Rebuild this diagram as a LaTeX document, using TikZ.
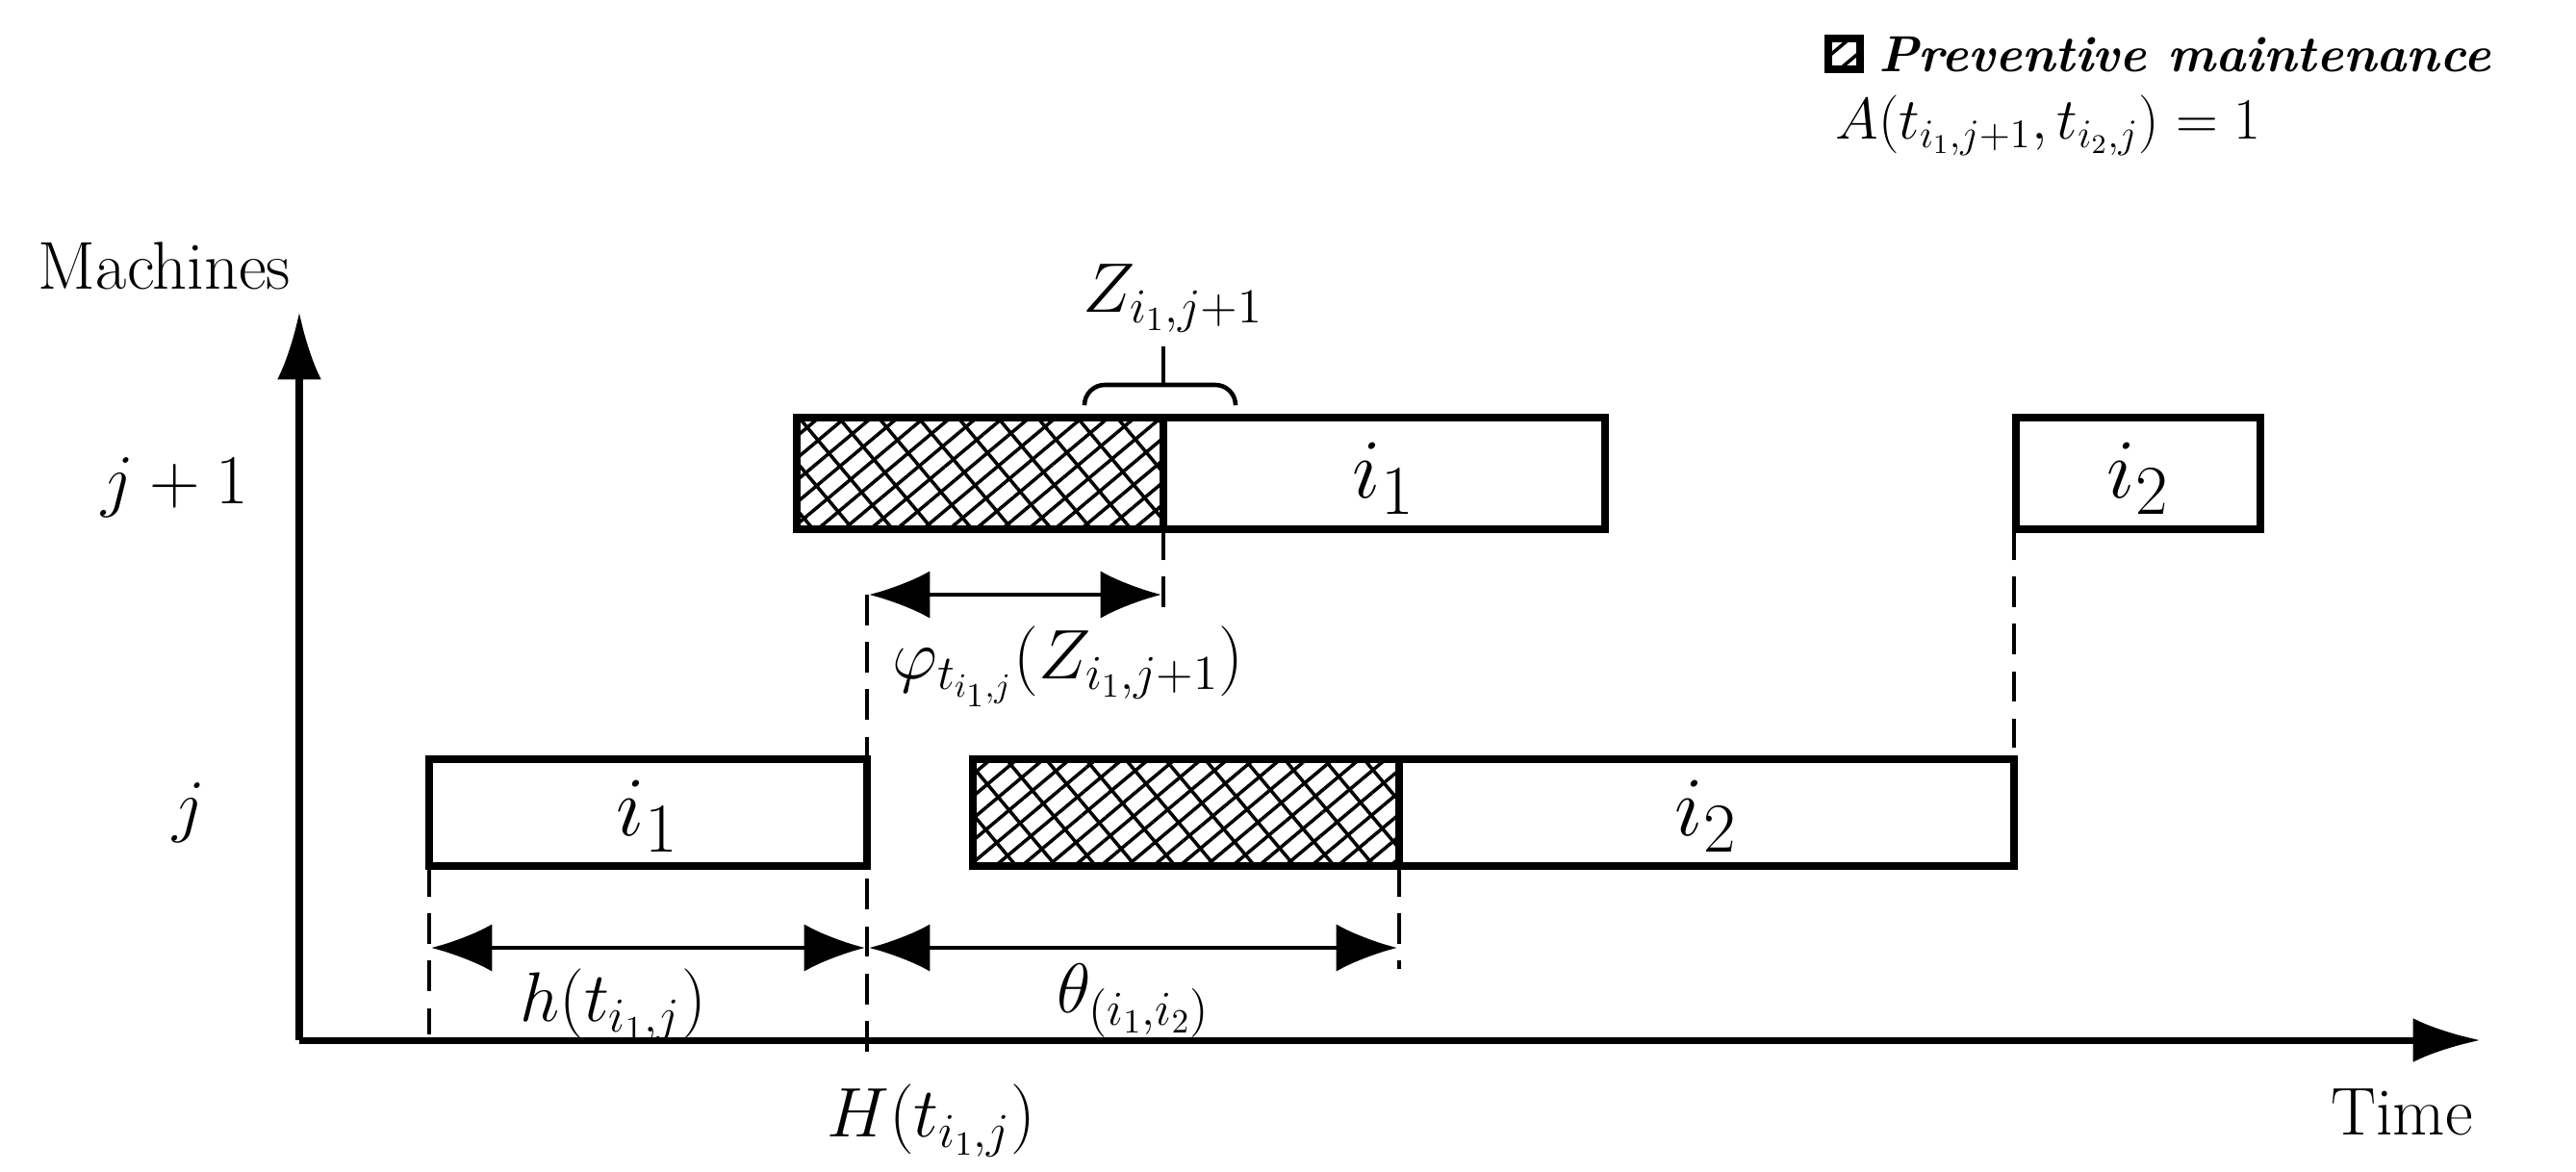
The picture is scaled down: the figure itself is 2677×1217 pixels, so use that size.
\documentclass[tikz,border=0pt]{standalone}
\usetikzlibrary{arrows.meta,patterns.meta,decorations.pathreplacing}
\begin{document}
\begin{tikzpicture}[x=0.01cm,y=-0.01cm,
  box/.style={draw,line width=2.2pt,fill=white},
  pm/.style={pattern={Lines[angle=40,distance=5pt,line width=1pt]}},
  pm2/.style={pattern={Lines[angle=-50,distance=9pt,line width=1pt]}},
  dsh/.style={dash pattern=on 9pt off 5pt,line width=1.1pt},
  dim/.style={line width=1.3pt,{Latex[length=18pt,width=14pt]}-{Latex[length=18pt,width=14pt]}},
  lab/.style={font=\fontsize{20}{24}\selectfont},
  big/.style={font=\fontsize{28}{32}\selectfont}]
\useasboundingbox (0,0) rectangle (2677,1217);
% axes
\coordinate (O) at (311,1081);
\coordinate (Ytop) at (311,324);
\coordinate (Xend) at (2578,1081);
\draw[line width=2pt,-{Latex[length=20pt,width=13pt]}] (O) -- (Ytop);
\draw[line width=2pt,-{Latex[length=20pt,width=13pt]}] (O) -- (Xend);
\node[lab] (mach) at (171,276) {Machines};
\node[lab] (time) at (2496,1156) {Time};
\node[lab] (rj1) at (182,507) {$j+1$};
\node[lab] (rj) at (196,845) {$j$};
% row j+1
\path[pm] (828,434) rectangle (1209,550);
\path[pm2] (828,434) rectangle (1209,550);
\draw[line width=2.2pt] (828,434) rectangle (1209,550);
\draw[box] (1209,434) rectangle (1668,550);
\node[big] (a1l) at (1438,497) {$i_1$};
\draw[box] (2095,434) rectangle (2349,550);
\node[big] (a2l) at (2222,497) {$i_2$};
% row j
\draw[box] (446,789) rectangle (901,900);
\node[big] (b1l) at (673,848) {$i_1$};
\path[pm] (1011,789) rectangle (1454,900);
\path[pm2] (1011,789) rectangle (1454,900);
\draw[line width=2.2pt] (1011,789) rectangle (1454,900);
\draw[box] (1454,789) rectangle (2093,900);
\node[big] (b2l) at (1773,848) {$i_2$};
% brace
\draw[line width=1.3pt,rounded corners=6pt] (1127,420) -- (1127,400) -- (1284,400) -- (1284,420);
\coordinate (bt1) at (1209,400);
\coordinate (bt2) at (1209,360);
\draw[line width=1.3pt] (bt1) -- (bt2);
\node[lab] (zl) at (1219,310) {$Z_{i_1,j+1}$};
% dashed lines
\coordinate (d1a) at (901,618); \coordinate (d1b) at (901,1093);
\coordinate (d2a) at (1209,550); \coordinate (d2b) at (1209,632);
\coordinate (d3a) at (2093,550); \coordinate (d3b) at (2093,777);
\coordinate (d4a) at (446,900); \coordinate (d4b) at (446,1075);
\coordinate (d5a) at (1454,900); \coordinate (d5b) at (1454,1007);
\draw[dsh] (d1a)--(d1b); \draw[dsh] (d2a)--(d2b); \draw[dsh] (d3a)--(d3b);
\draw[dsh] (d4a)--(d4b); \draw[dsh] (d5a)--(d5b);
% dimensions
\coordinate (p1) at (903,618); \coordinate (p2) at (1207,618);
\draw[dim] (p1) -- (p2);
\node[lab] (phil) at (1110,693) {$\varphi_{t_{i_1,j}}\bigl(Z_{i_1,j+1}\bigr)$};
\coordinate (h1) at (448,985); \coordinate (h2) at (899,985);
\draw[dim] (h1) -- (h2);
\node[lab] (hl) at (637,1045) {$h\bigl(t_{i_1,j}\bigr)$};
\coordinate (t1) at (903,985); \coordinate (t2) at (1452,985);
\draw[dim] (t1) -- (t2);
\node[lab] (tl) at (1178,1040) {$\theta_{(i_1,i_2)}$};
\node[lab] (Hl) at (968,1165) {$H\bigl(t_{i_1,j}\bigr)$};
% legend
\path[pm] (1900,40) rectangle (1933,72);
\draw[line width=2pt] (1900,40) rectangle (1933,72);
\node[anchor=west,font=\fontsize{15}{18}\selectfont] (leg) at (1940,57) {\textbf{\textit{Preventive maintenance}}};
\node[anchor=west,font=\fontsize{17}{20}\selectfont] (A) at (1895,130) {$A\bigl(t_{i_1,j+1},t_{i_2,j}\bigr)=1$};
\end{tikzpicture}
\end{document}
